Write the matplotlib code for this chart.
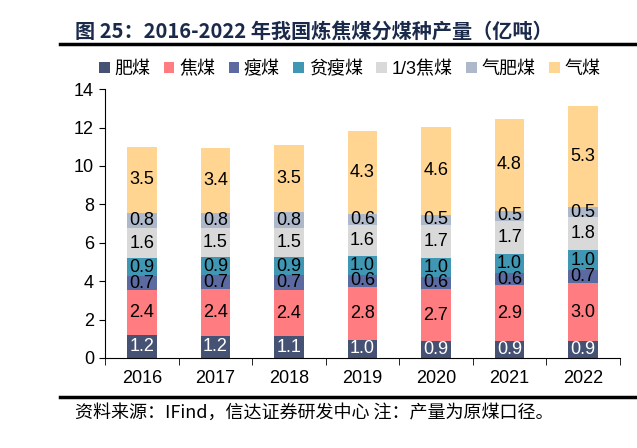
import matplotlib.pyplot as plt
import numpy as np

plt.rcParams['font.family'] = ['Liberation Sans', 'Noto Sans CJK SC', 'DejaVu Sans']

years = ['2016', '2017', '2018', '2019', '2020', '2021', '2022']
names = ['肥煤', '焦煤', '瘦煤', '贫瘦煤', '1/3焦煤', '气肥煤', '气煤']
# values (labels show one decimal)
feimei = [1.17, 1.16, 1.12, 0.96, 0.86, 0.89, 0.86]
jiaomei = [2.36, 2.41, 2.44, 2.76, 2.74, 2.89, 3.03]
shoumei = [0.74, 0.74, 0.74, 0.60, 0.62, 0.64, 0.67]
pinshou = [0.93, 0.94, 0.94, 1.00, 1.00, 1.00, 1.04]
sanjiao = [1.57, 1.51, 1.52, 1.63, 1.73, 1.71, 1.76]
qifei = [0.78, 0.81, 0.84, 0.56, 0.52, 0.54, 0.48]
qimei = [3.46, 3.38, 3.50, 4.30, 4.58, 4.77, 5.26]

series = [feimei, jiaomei, shoumei, pinshou, sanjiao, qifei, qimei]
colors = ['#465273', '#FF7C80', '#5B6AA0', '#3F97B4', '#D9D9D9', '#ADB9CA', '#FFD591']
text_colors = ['white', 'black', 'black', 'black', 'black', 'black', 'black']

fig = plt.figure(figsize=(6.37, 4.48), dpi=100)
ax = fig.add_axes([0.165, 0.201, 0.808, 0.6])

x = np.arange(len(years))
bottom = np.zeros(len(years))
for vals, name, c, tc in zip(series, names, colors, text_colors):
    vals = np.array(vals)
    ax.bar(x, vals, 0.4, bottom=bottom, color=c, label=name)
    for xi, b, v in zip(x, bottom, vals):
        ax.text(xi, b + v / 2, f'{v:.1f}', ha='center', va='center',
                fontsize=13, color=tc)
    bottom += vals

ax.set_ylim(0, 14)
ax.set_yticks(range(0, 15, 2))
ax.set_xlim(-0.5, len(years) - 0.5)
ax.set_xticks(x)
ax.set_xticklabels(years)
ax.set_xticks(np.arange(-0.5, len(years)), minor=True)
ax.tick_params(axis='x', which='major', length=0, labelsize=13, pad=9)
ax.tick_params(axis='x', which='minor', length=5, direction='out')
ax.tick_params(axis='y', labelsize=13, length=4, direction='out', pad=4)
for s in ['top', 'right']:
    ax.spines[s].set_visible(False)

ax.legend(loc='lower center', bbox_to_anchor=(0.475, 1.015), ncol=7, frameon=False,
          fontsize=13, handlelength=0.6, handleheight=0.6, handletextpad=0.25,
          columnspacing=0.75, borderaxespad=0)

fig.text(0.118, 0.93, '图 25：2016-2022 年我国炼焦煤分煤种产量（亿吨）', fontsize=14.5,
         fontweight='bold', color='#1B2A4A', family=['Noto Sans CJK SC'],
         va='center')
fig.add_artist(plt.Line2D([0.094, 1.0], [0.902, 0.902], color='black', lw=2.5))
fig.add_artist(plt.Line2D([0.094, 1.0], [0.114, 0.114], color='black', lw=2.5))
fig.text(0.118, 0.078, '资料来源：IFind，信达证券研发中心 注：产量为原煤口径。', fontsize=13,
         style='italic', family=['Noto Sans CJK SC'], va='center')

fig.savefig('out.png', dpi=100)
